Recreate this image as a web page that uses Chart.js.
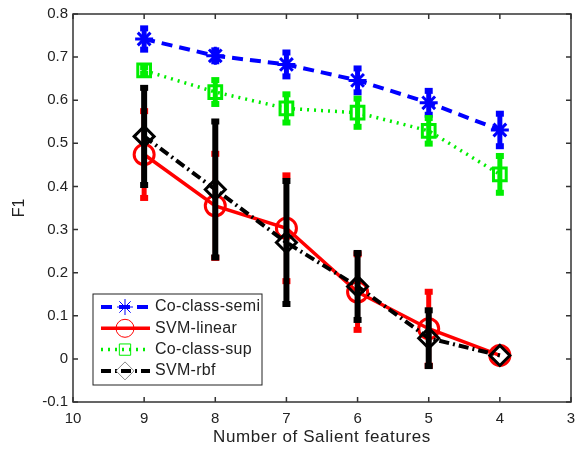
<!DOCTYPE html>
<html>
<head>
<meta charset="utf-8">
<script src="https://cdn.jsdelivr.net/npm/chart.js@4/dist/chart.umd.min.js"></script>
<style>
  html, body { margin: 0; padding: 0; background: #fff; }
  #wrap { width: 584px; height: 452px; }
</style>
</head>
<body>
<div id="wrap"><canvas id="f1Chart" width="584" height="452"></canvas></div>
<script>
const features = [9, 8, 7, 6, 5, 4];
const xTicks = [10, 9, 8, 7, 6, 5, 4, 3];
const yTicks = [-0.1, 0, 0.1, 0.2, 0.3, 0.4, 0.5, 0.6, 0.7, 0.8];

const semiF1 = [0.742, 0.703, 0.683, 0.646, 0.594, 0.531];
const semiErr = [0.027, 0.015, 0.03, 0.03, 0.03, 0.04];
const linearF1 = [0.474, 0.355, 0.303, 0.155, 0.07, 0.008];
const linearErr = [0.103, 0.123, 0.125, 0.09, 0.088, 0];
const supF1 = [0.669, 0.619, 0.581, 0.571, 0.529, 0.428];
const supErr = [0.01, 0.03, 0.035, 0.035, 0.032, 0.045];
const rbfF1 = [0.516, 0.393, 0.27, 0.168, 0.048, 0.008];
const rbfErr = [0.115, 0.16, 0.145, 0.08, 0.067, 0];

const FONT = '"Liberation Sans", Arial, sans-serif';

const toPoints = (vals) => vals.map((v, i) => ({ x: features[i], y: v }));

const series = [
    { label: 'Co-class-semi', data: semiF1, err: semiErr, color: '#0000ff',
      dash: [11, 7], width: 4, style: 'star', radius: 9 },
    { label: 'SVM-linear', data: linearF1, err: linearErr, color: '#ff0000',
      dash: [], width: 3.5, style: 'circle', radius: 10 },
    { label: 'Co-class-sup', data: supF1, err: supErr, color: '#00ee00',
      dash: [2, 5], width: 3.5, style: 'rect', radius: 9 },
    { label: 'SVM-rbf', data: rbfF1, err: rbfErr, color: '#000000',
      dash: [10, 4, 2, 4], width: 4, style: 'rectRot', radius: 10 }
];

const errorBars = {
    id: 'errorBars',
    afterDatasetDraw(chart, args) {
        const s = series[args.index];
        const xs = chart.scales.x, ys = chart.scales.y;
        const ctx = chart.ctx;
        ctx.save();
        ctx.strokeStyle = s.color;
        ctx.fillStyle = s.color;
        ctx.lineWidth = args.index === 3 ? 6 : 5;
        ctx.setLineDash([]);
        s.data.forEach((v, i) => {
            if (!s.err[i]) return;
            const px = xs.getPixelForValue(features[i]);
            const top = ys.getPixelForValue(v + s.err[i]);
            const bot = ys.getPixelForValue(v - s.err[i]);
            ctx.beginPath();
            ctx.moveTo(px, top); ctx.lineTo(px, bot);
            ctx.stroke();
            ctx.fillRect(px - 4, top - 2, 8, 6);
            ctx.fillRect(px - 4, bot - 4, 8, 6);
        });
        ctx.restore();
    }
};

const frame = {
    id: 'frame',
    afterDraw(chart) {
        const { ctx, chartArea: a } = chart;
        const xs = chart.scales.x, ys = chart.scales.y;
        ctx.save();
        ctx.strokeStyle = '#333';
        ctx.lineWidth = 1.5;
        ctx.setLineDash([]);
        ctx.strokeRect(a.left, a.top, a.right - a.left, a.bottom - a.top);
        ctx.beginPath();
        xTicks.forEach(t => {
            const px = xs.getPixelForValue(t);
            ctx.moveTo(px, a.bottom); ctx.lineTo(px, a.bottom - 5);
            ctx.moveTo(px, a.top); ctx.lineTo(px, a.top + 5);
        });
        yTicks.forEach(t => {
            const py = ys.getPixelForValue(t);
            ctx.moveTo(a.left, py); ctx.lineTo(a.left + 5, py);
            ctx.moveTo(a.right, py); ctx.lineTo(a.right - 5, py);
        });
        ctx.stroke();

        // axis titles
        ctx.fillStyle = '#222';
        ctx.font = '17px ' + FONT;
        ctx.letterSpacing = '0.6px';
        ctx.textAlign = 'center';
        ctx.textBaseline = 'middle';
        ctx.fillText('Number of Salient features', (a.left + a.right) / 2, 437);
        ctx.font = '16px ' + FONT;
        ctx.letterSpacing = '0px';
        ctx.translate(20, (a.top + a.bottom) / 2);
        ctx.rotate(-Math.PI / 2);
        ctx.fillText('F1', 0, 0);
        ctx.restore();

        // legend
        const lx = 93, ly = 294, lw = 169, lh = 91;
        ctx.save();
        ctx.fillStyle = '#fff';
        ctx.fillRect(lx, ly, lw, lh);
        ctx.strokeStyle = '#222';
        ctx.lineWidth = 1;
        ctx.strokeRect(lx, ly, lw, lh);
        ctx.font = '16px ' + FONT;
        ctx.letterSpacing = '0.3px';
        ctx.textAlign = 'left';
        ctx.textBaseline = 'middle';
        series.forEach((s, i) => {
            const cy = ly + 13 + i * 21.3;
            ctx.strokeStyle = s.color;
            ctx.lineWidth = s.width;
            ctx.setLineDash(s.dash);
            ctx.beginPath();
            ctx.moveTo(lx + 8, cy); ctx.lineTo(lx + 57, cy);
            ctx.stroke();
            ctx.setLineDash([]);
            ctx.fillStyle = 'rgba(255,255,255,0)';
            ctx.strokeStyle = i === 3 ? '#888' : s.color;
            ctx.lineWidth = 1;
            Chart.helpers.drawPoint(ctx, { pointStyle: s.style, radius: s.radius - 1, borderWidth: 1, rotation: 0 }, lx + 32, cy);
            ctx.fillStyle = '#222';
            ctx.fillText(s.label, lx + 62, cy);
        });
        ctx.restore();
    }
};

new Chart(document.getElementById('f1Chart'), {
    type: 'line',
    data: {
        datasets: series.map((s, i) => ({
            label: s.label,
            data: toPoints(s.data),
            order: series.length - i,
            borderColor: s.color,
            backgroundColor: 'transparent',
            borderWidth: s.width,
            borderDash: s.dash,
            pointStyle: s.style,
            pointRadius: s.radius,
            pointBorderWidth: 3,
            pointBorderColor: s.color,
            pointBackgroundColor: 'transparent',
            tension: 0
        }))
    },
    options: {
        responsive: false,
        animation: false,
        layout: { padding: { left: 0, top: 10, right: 12, bottom: 0 } },
        plugins: { legend: { display: false }, tooltip: { enabled: false } },
        scales: {
            x: {
                type: 'linear',
                reverse: true,
                min: 3,
                max: 10,
                afterBuildTicks: (scale) => { scale.ticks = xTicks.map(v => ({ value: v })); },
                afterFit: (scale) => { scale.height = 50; },
                grid: { display: false, drawTicks: false },
                border: { display: false },
                ticks: { color: '#222', font: { family: FONT, size: 15 }, padding: 8,
                         callback: (v) => String(v) }
            },
            y: {
                type: 'linear',
                min: -0.1,
                max: 0.8,
                afterBuildTicks: (scale) => { scale.ticks = yTicks.map(v => ({ value: v })); },
                afterFit: (scale) => { scale.width = 73; },
                grid: { display: false, drawTicks: false },
                border: { display: false },
                ticks: { color: '#222', font: { family: FONT, size: 15 }, padding: 5,
                         callback: (v) => String(Math.round(v * 10) / 10) }
            }
        }
    },
    plugins: [errorBars, frame]
});
</script>
</body>
</html>
